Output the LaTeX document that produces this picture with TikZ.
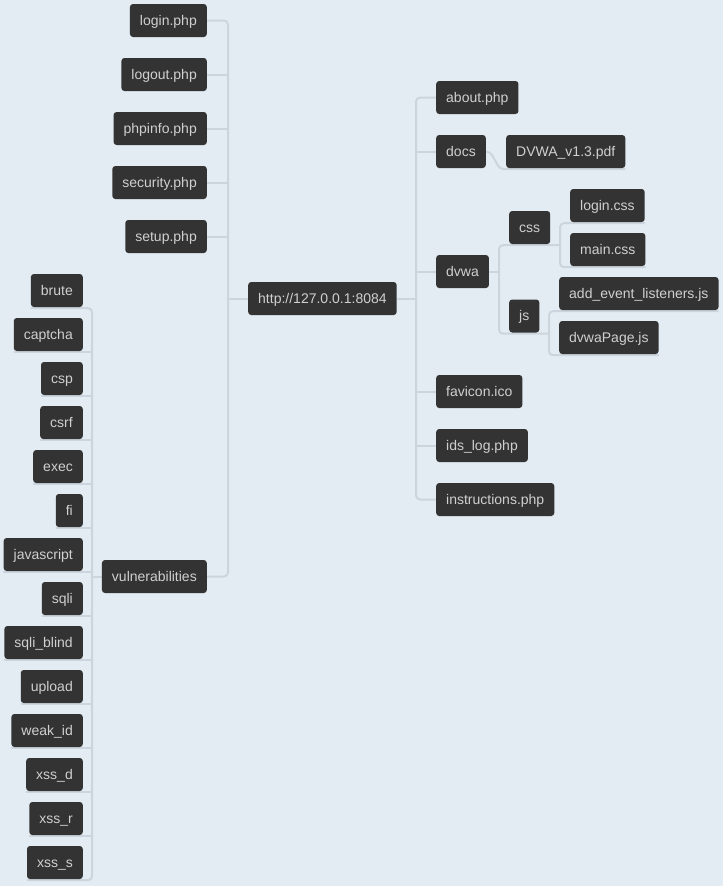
\documentclass[tikz,border=0pt]{standalone}
\usepackage{fontspec}
\setmainfont{Liberation Sans}
\usetikzlibrary{backgrounds}
\definecolor{bgc}{RGB}{227,236,242}
\definecolor{boxc}{RGB}{51,51,51}
\definecolor{txtc}{RGB}{208,208,208}
\definecolor{linec}{RGB}{204,213,222}
\tikzset{
  box/.style={fill=boxc, text=txtc, rounded corners=3pt, minimum height=33pt,
    inner xsep=10pt, inner ysep=0pt, text height=11pt, text depth=2pt,
    font=\fontsize{14pt}{16pt}\selectfont},
  lbox/.style={box, anchor=east},
  rbox/.style={box, anchor=west},
  conn/.style={draw=linec, line width=2pt, rounded corners=4pt},
}
\begin{document}
\begin{tikzpicture}[x=1pt,y=-1pt]
\useasboundingbox (0,0) rectangle (723,886);
% nodes
\node[rbox] (root) at (248,298.5) {http://127.0.0.1:8084};
\node[lbox] (login) at (207,20.5) {login.php};
\node[lbox] (logout) at (207,74.5) {logout.php};
\node[lbox] (phpinfo) at (207,128.5) {phpinfo.php};
\node[lbox] (security) at (207,182.5) {security.php};
\node[lbox] (setup) at (207,236.5) {setup.php};
\node[lbox] (vuln) at (207,576.5) {vulnerabilities};
\node[lbox] (brute) at (83,290.5) {brute};
\node[lbox] (captcha) at (83,334.5) {captcha};
\node[lbox] (csp) at (83,378.5) {csp};
\node[lbox] (csrf) at (83,422.5) {csrf};
\node[lbox] (exec) at (83,466.5) {exec};
\node[lbox] (fi) at (83,510.5) {fi};
\node[lbox] (javascript) at (83,554.5) {javascript};
\node[lbox] (sqli) at (83,598.5) {sqli};
\node[lbox] (sqliblind) at (83,642.5) {sqli\_blind};
\node[lbox] (upload) at (83,686.5) {upload};
\node[lbox] (weakid) at (83,730.5) {weak\_id};
\node[lbox] (xssd) at (83,774.5) {xss\_d};
\node[lbox] (xssr) at (83,818.5) {xss\_r};
\node[lbox] (xsss) at (83,862.5) {xss\_s};
\node[rbox] (about) at (436,97.5) {about.php};
\node[rbox] (docs) at (436,151.5) {docs};
\node[rbox] (pdf) at (506,151.5) {DVWA\_v1.3.pdf};
\node[rbox] (dvwa) at (436,271.5) {dvwa};
\node[rbox] (css) at (509,227.5) {css};
\node[rbox] (logincss) at (570,205.5) {login.css};
\node[rbox] (maincss) at (570,249.5) {main.css};
\node[rbox] (js) at (509,316) {js};
\node[rbox] (addev) at (559,293.5) {add\_event\_listeners.js};
\node[rbox] (dvwapage) at (559,337.5) {dvwaPage.js};
\node[rbox] (favicon) at (436,391.5) {favicon.ico};
\node[rbox] (ids) at (436,445.5) {ids\_log.php};
\node[rbox] (instr) at (436,499.5) {instructions.php};
% trunk coordinates
\coordinate (ltrunk) at (228,0);
\coordinate (rtrunk) at (416,0);
\coordinate (vtrunk) at (92,0);
\coordinate (dtrunk) at (499,0);
\coordinate (ctrunk) at (560,0);
\coordinate (jtrunk) at (549,0);
\begin{scope}[on background layer]
\fill[bgc] (0,0) rectangle (723,886);
% left top-level
\draw[conn] (login.east) -- (login.east -| ltrunk) -- (vuln.east -| ltrunk) -- (vuln.east);
\foreach \n in {logout,phpinfo,security,setup}{
  \draw[conn] (\n.east -| ltrunk) -- (\n.east);
}
\draw[conn] (root.west) -- (root.west -| ltrunk);
% right top-level
\draw[conn] (about.west) -- (about.west -| rtrunk) -- (instr.west -| rtrunk) -- (instr.west);
\draw[conn] (root.east) -- (root.east -| rtrunk);
\foreach \n in {docs,dvwa,favicon,ids}{
  \draw[conn] (\n.west -| rtrunk) -- (\n.west);
}
% vulnerabilities leaves
\draw[conn] ([yshift=-1pt]brute.south west) -- ([yshift=-1pt]brute.south west -| vtrunk)
  -- ([yshift=-1pt]xsss.south west -| vtrunk) -- ([yshift=-1pt]xsss.south west);
\foreach \n in {captcha,csp,csrf,exec,fi,javascript,sqli,sqliblind,upload,weakid,xssd,xssr}{
  \draw[conn] ([yshift=-1pt]\n.south west) -- ([yshift=-1pt]\n.south west -| vtrunk);
}
\draw[conn] (vuln.west) -- (vuln.west -| vtrunk);
% docs -> pdf
\draw[conn] (docs.east) -- ([xshift=4pt]docs.east) -- ([xshift=-6pt,yshift=-1pt]pdf.south west) -- ([yshift=-1pt]pdf.south east);
% dvwa -> css, js
\draw[conn] ([yshift=-1pt]css.south -| ctrunk) -- ([yshift=-1pt]css.south -| dtrunk)
  -- ([yshift=-1pt]js.south -| dtrunk) -- ([yshift=-1pt]js.south -| jtrunk);
\draw[conn] (dvwa.east) -- (dvwa.east -| dtrunk);
% css -> login.css, main.css
\draw[conn] ([yshift=-1pt]logincss.south east) -- ([yshift=-1pt]logincss.south east -| ctrunk)
  -- ([yshift=-1pt]maincss.south east -| ctrunk) -- ([yshift=-1pt]maincss.south east);
% js -> addev, dvwapage
\draw[conn] ([yshift=-1pt]addev.south east) -- ([yshift=-1pt]addev.south east -| jtrunk)
  -- ([yshift=-1pt]dvwapage.south east -| jtrunk) -- ([yshift=-1pt]dvwapage.south east);
\end{scope}
\end{tikzpicture}
\end{document}
